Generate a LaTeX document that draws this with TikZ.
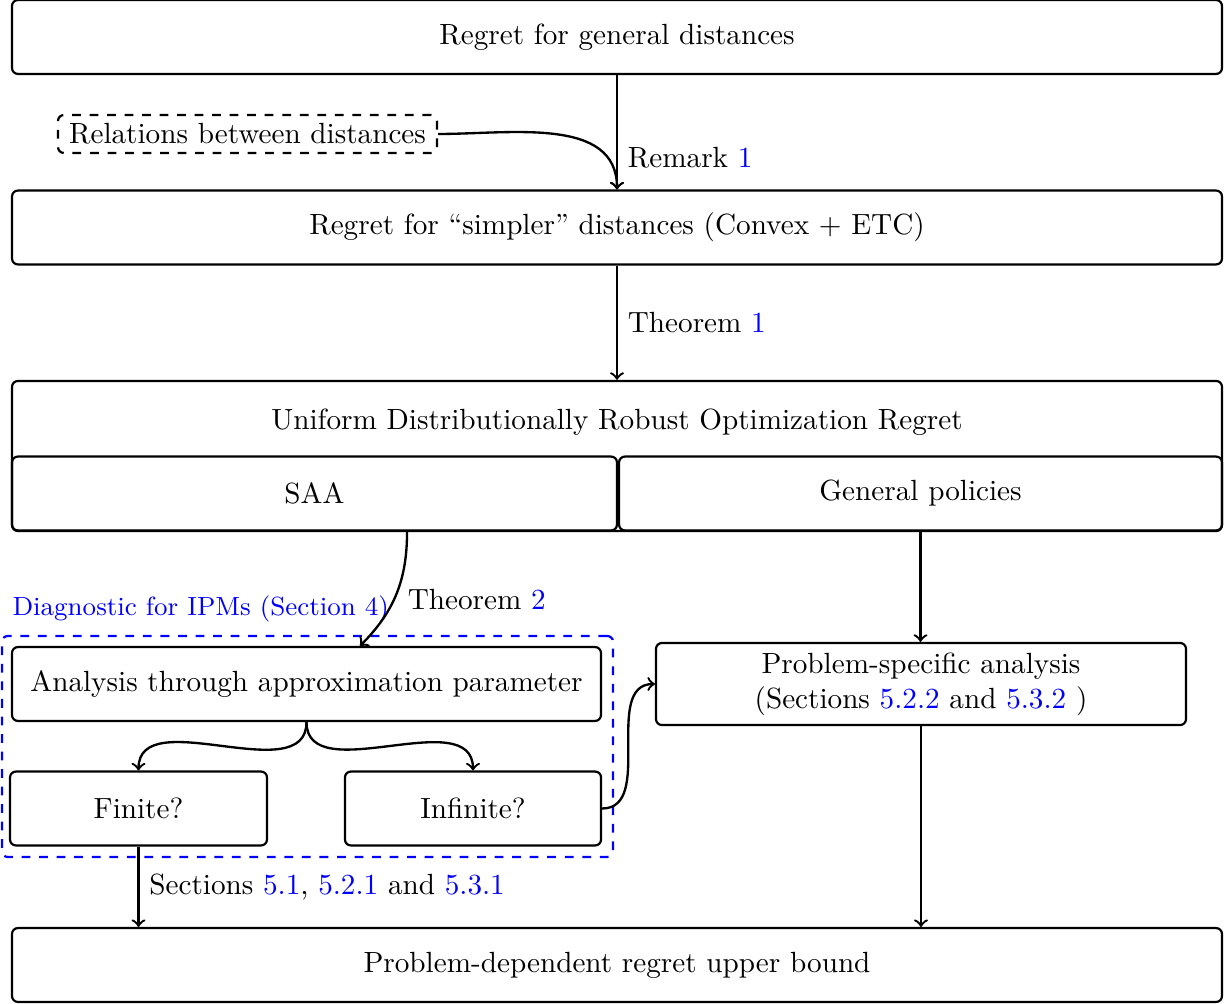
\documentclass[tikz,border=0pt]{standalone}
\usepackage{amsmath}
\usepackage{xcolor}
\usepackage{tikz}
\usetikzlibrary{arrows}
\newcommand{\lnk}[1]{\textcolor{blue}{#1}}

\begin{document}
\begin{tikzpicture}[x=0.3425pt,y=0.3425pt,
	box/.style={draw,rounded corners=2pt,line width=0.75pt,inner sep=0pt,align=center,minimum height=25.3pt},
	fullbox/.style={box,minimum width=414.4pt},
	dashbox/.style={draw,dashed,rounded corners=2pt,line width=0.75pt,inner sep=0pt},
	conn/.style={line width=0.8pt,->}]
		\useasboundingbox (0,0) rectangle (1225,-1003);
		% top rows
		\node[fullbox] (gen) at (617,-37) {Regret for general distances};
		\node[dashbox,minimum width=129.8pt,minimum height=13pt] (rel) at (247.5,-134) {Relations between distances};
		\node[fullbox] (simp) at (617,-227.5) {Regret for ``simpler'' distances (Convex + ETC)};
		% uniform dro box
		\node[fullbox,minimum height=51.4pt] (udro) at (617,-456) {};
		\node (udrot) at (617,-422) {Uniform Distributionally Robust Optimization Regret};
		\node[box,minimum width=207.2pt] (saa) at (314.5,-493.5) {SAA};
		\node[box,minimum width=206.5pt] (pol) at (920.5,-493.5) {General policies};
		% diagnostic
		\node[dashbox,draw=blue,minimum width=209.3pt,minimum height=75.7pt] (diag) at (307.5,-746.5) {};
		\node[anchor=west,inner sep=0pt,blue,font=\small] (diagt) at (12,-609) {Diagnostic for IPMs (Section 4)};
		\node[box,minimum width=201.7pt] (ana) at (306.5,-684) {Analysis through approximation parameter};
		\node[box,minimum width=88pt] (fin) at (138.5,-808.5) {Finite?};
		\node[box,minimum width=87.7pt] (inf) at (473,-808.5) {Infinite?};
		\node[box,minimum width=181.5pt,minimum height=28.1pt] (prob) at (921,-684) {Problem-specific analysis\\(Sections \lnk{5.2.2} and \lnk{5.3.2} )};
		\node[fullbox] (final) at (617,-965) {Problem-dependent regret upper bound};
		% arrows
		\draw[conn] (gen.south) -- node[pos=0.72,anchor=west]{Remark \lnk{1}} (simp.north);
		\draw[conn] (rel.east) to[out=0,in=90] (simp.north);
		\draw[conn] (simp.south) -- node[midway,anchor=west]{Theorem \lnk{1}} (udro.north);
		\draw[conn] ([xshift=31.7pt]saa.south) to[out=-90,in=45] node[pos=0.55,anchor=west,xshift=1pt]{Theorem \lnk{2}} ([xshift=18.3pt]ana.north);
		\draw[conn] (pol.south) -- (pol.south |- prob.north);
		\draw[conn] (ana.south) to[out=-90,in=90] (fin.north);
		\draw[conn] (ana.south) to[out=-90,in=90] (inf.north);
		\draw[conn] (inf.east) to[out=0,in=180] (prob.west);
		\draw[conn] (fin.south) -- node[midway,anchor=west]{Sections \lnk{5.1}, \lnk{5.2.1} and \lnk{5.3.1}} (fin.south |- final.north);
		\draw[conn] (prob.south) -- (prob.south |- final.north);
	\end{tikzpicture}
\end{document}
